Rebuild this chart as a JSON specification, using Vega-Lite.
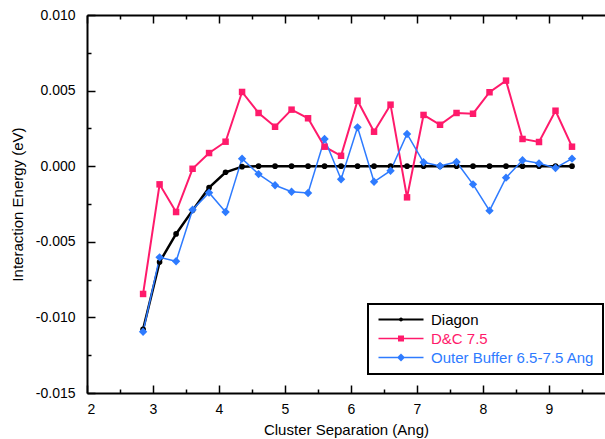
{
  "$schema": "https://vega.github.io/schema/vega-lite/v6.json",
  "width": 518,
  "height": 378,
  "autosize": {"type": "none"},
  "padding": {"left": 87, "top": 15, "right": 0, "bottom": 46},
  "background": "white",
  "config": {
    "view": {"stroke": null},
    "font": "Liberation Sans",
    "axis": {
      "domainColor": "black", "domainWidth": 2, "tickColor": "black", "tickWidth": 1.5,
      "labelColor": "black", "titleColor": "black", "labelFont": "Liberation Sans",
      "titleFont": "Liberation Sans", "labelFontSize": 14, "titleFontSize": 15,
      "titleFontWeight": "normal", "grid": false
    }
  },
  "datasets": {
    "d": [
      {"series": "Diagon", "x": 2.85, "y": -0.01079},
      {"series": "Diagon", "x": 3.1, "y": -0.00634},
      {"series": "Diagon", "x": 3.35, "y": -0.00448},
      {"series": "Diagon", "x": 3.6, "y": -0.00292},
      {"series": "Diagon", "x": 3.85, "y": -0.00142},
      {"series": "Diagon", "x": 4.1, "y": -0.0004},
      {"series": "Diagon", "x": 4.35, "y": -0.00003},
      {"series": "Diagon", "x": 4.6, "y": 0},
      {"series": "Diagon", "x": 4.85, "y": 0},
      {"series": "Diagon", "x": 5.1, "y": 0},
      {"series": "Diagon", "x": 5.35, "y": 0},
      {"series": "Diagon", "x": 5.6, "y": 0},
      {"series": "Diagon", "x": 5.85, "y": 0},
      {"series": "Diagon", "x": 6.1, "y": 0},
      {"series": "Diagon", "x": 6.35, "y": 0},
      {"series": "Diagon", "x": 6.6, "y": 0},
      {"series": "Diagon", "x": 6.85, "y": 0},
      {"series": "Diagon", "x": 7.1, "y": 0},
      {"series": "Diagon", "x": 7.35, "y": 0},
      {"series": "Diagon", "x": 7.6, "y": 0},
      {"series": "Diagon", "x": 7.85, "y": 0},
      {"series": "Diagon", "x": 8.1, "y": 0},
      {"series": "Diagon", "x": 8.35, "y": 0},
      {"series": "Diagon", "x": 8.6, "y": 0},
      {"series": "Diagon", "x": 8.85, "y": 0},
      {"series": "Diagon", "x": 9.1, "y": 0},
      {"series": "Diagon", "x": 9.35, "y": 0},
      {"series": "D&C 7.5", "x": 2.85, "y": -0.00845},
      {"series": "D&C 7.5", "x": 3.1, "y": -0.0012},
      {"series": "D&C 7.5", "x": 3.35, "y": -0.00303},
      {"series": "D&C 7.5", "x": 3.6, "y": -0.00017},
      {"series": "D&C 7.5", "x": 3.85, "y": 0.00087},
      {"series": "D&C 7.5", "x": 4.1, "y": 0.00162},
      {"series": "D&C 7.5", "x": 4.35, "y": 0.00491},
      {"series": "D&C 7.5", "x": 4.6, "y": 0.00352},
      {"series": "D&C 7.5", "x": 4.85, "y": 0.00261},
      {"series": "D&C 7.5", "x": 5.1, "y": 0.00374},
      {"series": "D&C 7.5", "x": 5.35, "y": 0.00317},
      {"series": "D&C 7.5", "x": 5.6, "y": 0.00129},
      {"series": "D&C 7.5", "x": 5.85, "y": 0.00069},
      {"series": "D&C 7.5", "x": 6.1, "y": 0.00433},
      {"series": "D&C 7.5", "x": 6.35, "y": 0.00228},
      {"series": "D&C 7.5", "x": 6.6, "y": 0.00407},
      {"series": "D&C 7.5", "x": 6.85, "y": -0.00206},
      {"series": "D&C 7.5", "x": 7.1, "y": 0.00339},
      {"series": "D&C 7.5", "x": 7.35, "y": 0.00274},
      {"series": "D&C 7.5", "x": 7.6, "y": 0.00352},
      {"series": "D&C 7.5", "x": 7.85, "y": 0.00347},
      {"series": "D&C 7.5", "x": 8.1, "y": 0.00489},
      {"series": "D&C 7.5", "x": 8.35, "y": 0.00566},
      {"series": "D&C 7.5", "x": 8.6, "y": 0.0018},
      {"series": "D&C 7.5", "x": 8.85, "y": 0.0016},
      {"series": "D&C 7.5", "x": 9.1, "y": 0.00367},
      {"series": "D&C 7.5", "x": 9.35, "y": 0.00129},
      {"series": "Outer Buffer 6.5-7.5 Ang", "x": 2.85, "y": -0.01095},
      {"series": "Outer Buffer 6.5-7.5 Ang", "x": 3.1, "y": -0.00603},
      {"series": "Outer Buffer 6.5-7.5 Ang", "x": 3.35, "y": -0.00629},
      {"series": "Outer Buffer 6.5-7.5 Ang", "x": 3.6, "y": -0.00288},
      {"series": "Outer Buffer 6.5-7.5 Ang", "x": 3.85, "y": -0.00175},
      {"series": "Outer Buffer 6.5-7.5 Ang", "x": 4.1, "y": -0.00303},
      {"series": "Outer Buffer 6.5-7.5 Ang", "x": 4.35, "y": 0.0005},
      {"series": "Outer Buffer 6.5-7.5 Ang", "x": 4.6, "y": -0.00052},
      {"series": "Outer Buffer 6.5-7.5 Ang", "x": 4.85, "y": -0.00126},
      {"series": "Outer Buffer 6.5-7.5 Ang", "x": 5.1, "y": -0.00169},
      {"series": "Outer Buffer 6.5-7.5 Ang", "x": 5.35, "y": -0.00177},
      {"series": "Outer Buffer 6.5-7.5 Ang", "x": 5.6, "y": 0.0018},
      {"series": "Outer Buffer 6.5-7.5 Ang", "x": 5.85, "y": -0.00086},
      {"series": "Outer Buffer 6.5-7.5 Ang", "x": 6.1, "y": 0.00257},
      {"series": "Outer Buffer 6.5-7.5 Ang", "x": 6.35, "y": -0.00103},
      {"series": "Outer Buffer 6.5-7.5 Ang", "x": 6.6, "y": -0.0003},
      {"series": "Outer Buffer 6.5-7.5 Ang", "x": 6.85, "y": 0.00213},
      {"series": "Outer Buffer 6.5-7.5 Ang", "x": 7.1, "y": 0.00026},
      {"series": "Outer Buffer 6.5-7.5 Ang", "x": 7.35, "y": 0.00001},
      {"series": "Outer Buffer 6.5-7.5 Ang", "x": 7.6, "y": 0.00028},
      {"series": "Outer Buffer 6.5-7.5 Ang", "x": 7.85, "y": -0.0012},
      {"series": "Outer Buffer 6.5-7.5 Ang", "x": 8.1, "y": -0.00294},
      {"series": "Outer Buffer 6.5-7.5 Ang", "x": 8.35, "y": -0.00076},
      {"series": "Outer Buffer 6.5-7.5 Ang", "x": 8.6, "y": 0.00039},
      {"series": "Outer Buffer 6.5-7.5 Ang", "x": 8.85, "y": 0.00019},
      {"series": "Outer Buffer 6.5-7.5 Ang", "x": 9.1, "y": -0.00012},
      {"series": "Outer Buffer 6.5-7.5 Ang", "x": 9.35, "y": 0.0005}
    ]
  },
  "data": {"name": "d"},
  "layer": [
    {
      "mark": {"type": "line"},
      "encoding": {
        "x": {
          "field": "x", "type": "quantitative",
          "scale": {"domain": [2, 9.85], "nice": false, "zero": false},
          "axis": {"orient": "bottom", "values": [2, 3, 4, 5, 6, 7, 8, 9], "tickSize": -8, "labelPadding": 17, "title": "Cluster Separation (Ang)", "titlePadding": 6}
        },
        "y": {
          "field": "y", "type": "quantitative",
          "scale": {"domain": [-0.015, 0.01], "nice": false, "zero": false},
          "axis": {"orient": "left", "values": [-0.015, -0.01, -0.005, 0, 0.005, 0.01], "tickSize": -8, "labelPadding": 20,
                   "labelExpr": "replace(format(datum.value, '.3f'), '\u2212', '-')",
                   "title": "Interaction Energy (eV)", "titlePadding": 10}
        },
        "color": {
          "field": "series", "type": "nominal",
          "scale": {"domain": ["Diagon", "D&C 7.5", "Outer Buffer 6.5-7.5 Ang"], "range": ["#000000", "#FF1A6B", "#2E7BFF"]},
          "legend": {
            "title": null, "orient": "none", "legendX": 281, "legendY": 289,
            "strokeColor": "black", "padding": 8, "labelFont": "Liberation Sans", "labelFontSize": 15,
            "labelOffset": 40, "symbolSize": 100, "rowPadding": 3, "labelLimit": 400, "symbolStrokeWidth": 0,
            "encode": {
              "symbols": {"update": {
                "shape": {"signal": "datum.value === 'Diagon' ? 'M-1,-0.2H8V0.2H-1Z M3.1,0A0.4,0.4,0,1,1,3.9,0A0.4,0.4,0,1,1,3.1,0Z' : datum.value === 'D&C 7.5' ? 'M-1,-0.15H8V0.15H-1Z M2.9,-0.6H4.1V0.6H2.9Z' : 'M-1,-0.15H8V0.15H-1Z M2.7,0L3.5,-0.8L4.3,0L3.5,0.8Z'"},
                "fill": {"signal": "scale('color', datum.value)"},
                "fillOpacity": {"value": 1},
                "strokeOpacity": {"value": 0},
                "opacity": {"value": 1}
              }},
              "labels": {"update": {"fill": {"signal": "scale('color', datum.value)"}}},
              "legend": {"update": {"strokeWidth": {"value": 2}}}
            }
          }
        },
        "strokeWidth": {
          "field": "series", "type": "ordinal",
          "scale": {"domain": ["Diagon", "D&C 7.5", "Outer Buffer 6.5-7.5 Ang"], "range": [2.5, 1.5, 1.5]},
          "legend": null
        }
      }
    },
    {
      "transform": [{"filter": "datum.series === 'Diagon'"}],
      "mark": {"type": "point", "filled": true, "opacity": 1, "shape": "circle", "size": 32, "color": "#000000"},
      "encoding": {
        "x": {"field": "x", "type": "quantitative",
              "axis": {"orient": "bottom", "values": [2.5, 3.5, 4.5, 5.5, 6.5, 7.5, 8.5, 9.5], "tickSize": -4, "labels": false, "domain": false, "title": null}},
        "y": {"field": "y", "type": "quantitative",
              "axis": {"orient": "left", "values": [-0.0125, -0.0075, -0.0025, 0.0025, 0.0075], "tickSize": -4, "labels": false, "domain": false, "title": null}}
      }
    },
    {
      "transform": [{"filter": "datum.series === 'D&C 7.5'"}],
      "mark": {"type": "point", "filled": true, "opacity": 1, "shape": "square", "size": 42, "color": "#FF1A6B"},
      "encoding": {
        "x": {"field": "x", "type": "quantitative",
              "axis": {"orient": "top", "values": [2, 3, 4, 5, 6, 7, 8, 9], "tickSize": -8, "labels": false, "domain": true, "title": null}},
        "y": {"field": "y", "type": "quantitative", "axis": null}
      }
    },
    {
      "transform": [{"filter": "datum.series === 'Outer Buffer 6.5-7.5 Ang'"}],
      "mark": {"type": "point", "filled": true, "opacity": 1, "shape": "diamond", "size": 70, "color": "#2E7BFF"},
      "encoding": {
        "x": {"field": "x", "type": "quantitative",
              "axis": {"orient": "top", "values": [2.5, 3.5, 4.5, 5.5, 6.5, 7.5, 8.5, 9.5], "tickSize": -4, "labels": false, "domain": false, "title": null}},
        "y": {"field": "y", "type": "quantitative", "axis": null}
      }
    }
  ],
  "resolve": {"axis": {"x": "independent", "y": "independent"}}
}
